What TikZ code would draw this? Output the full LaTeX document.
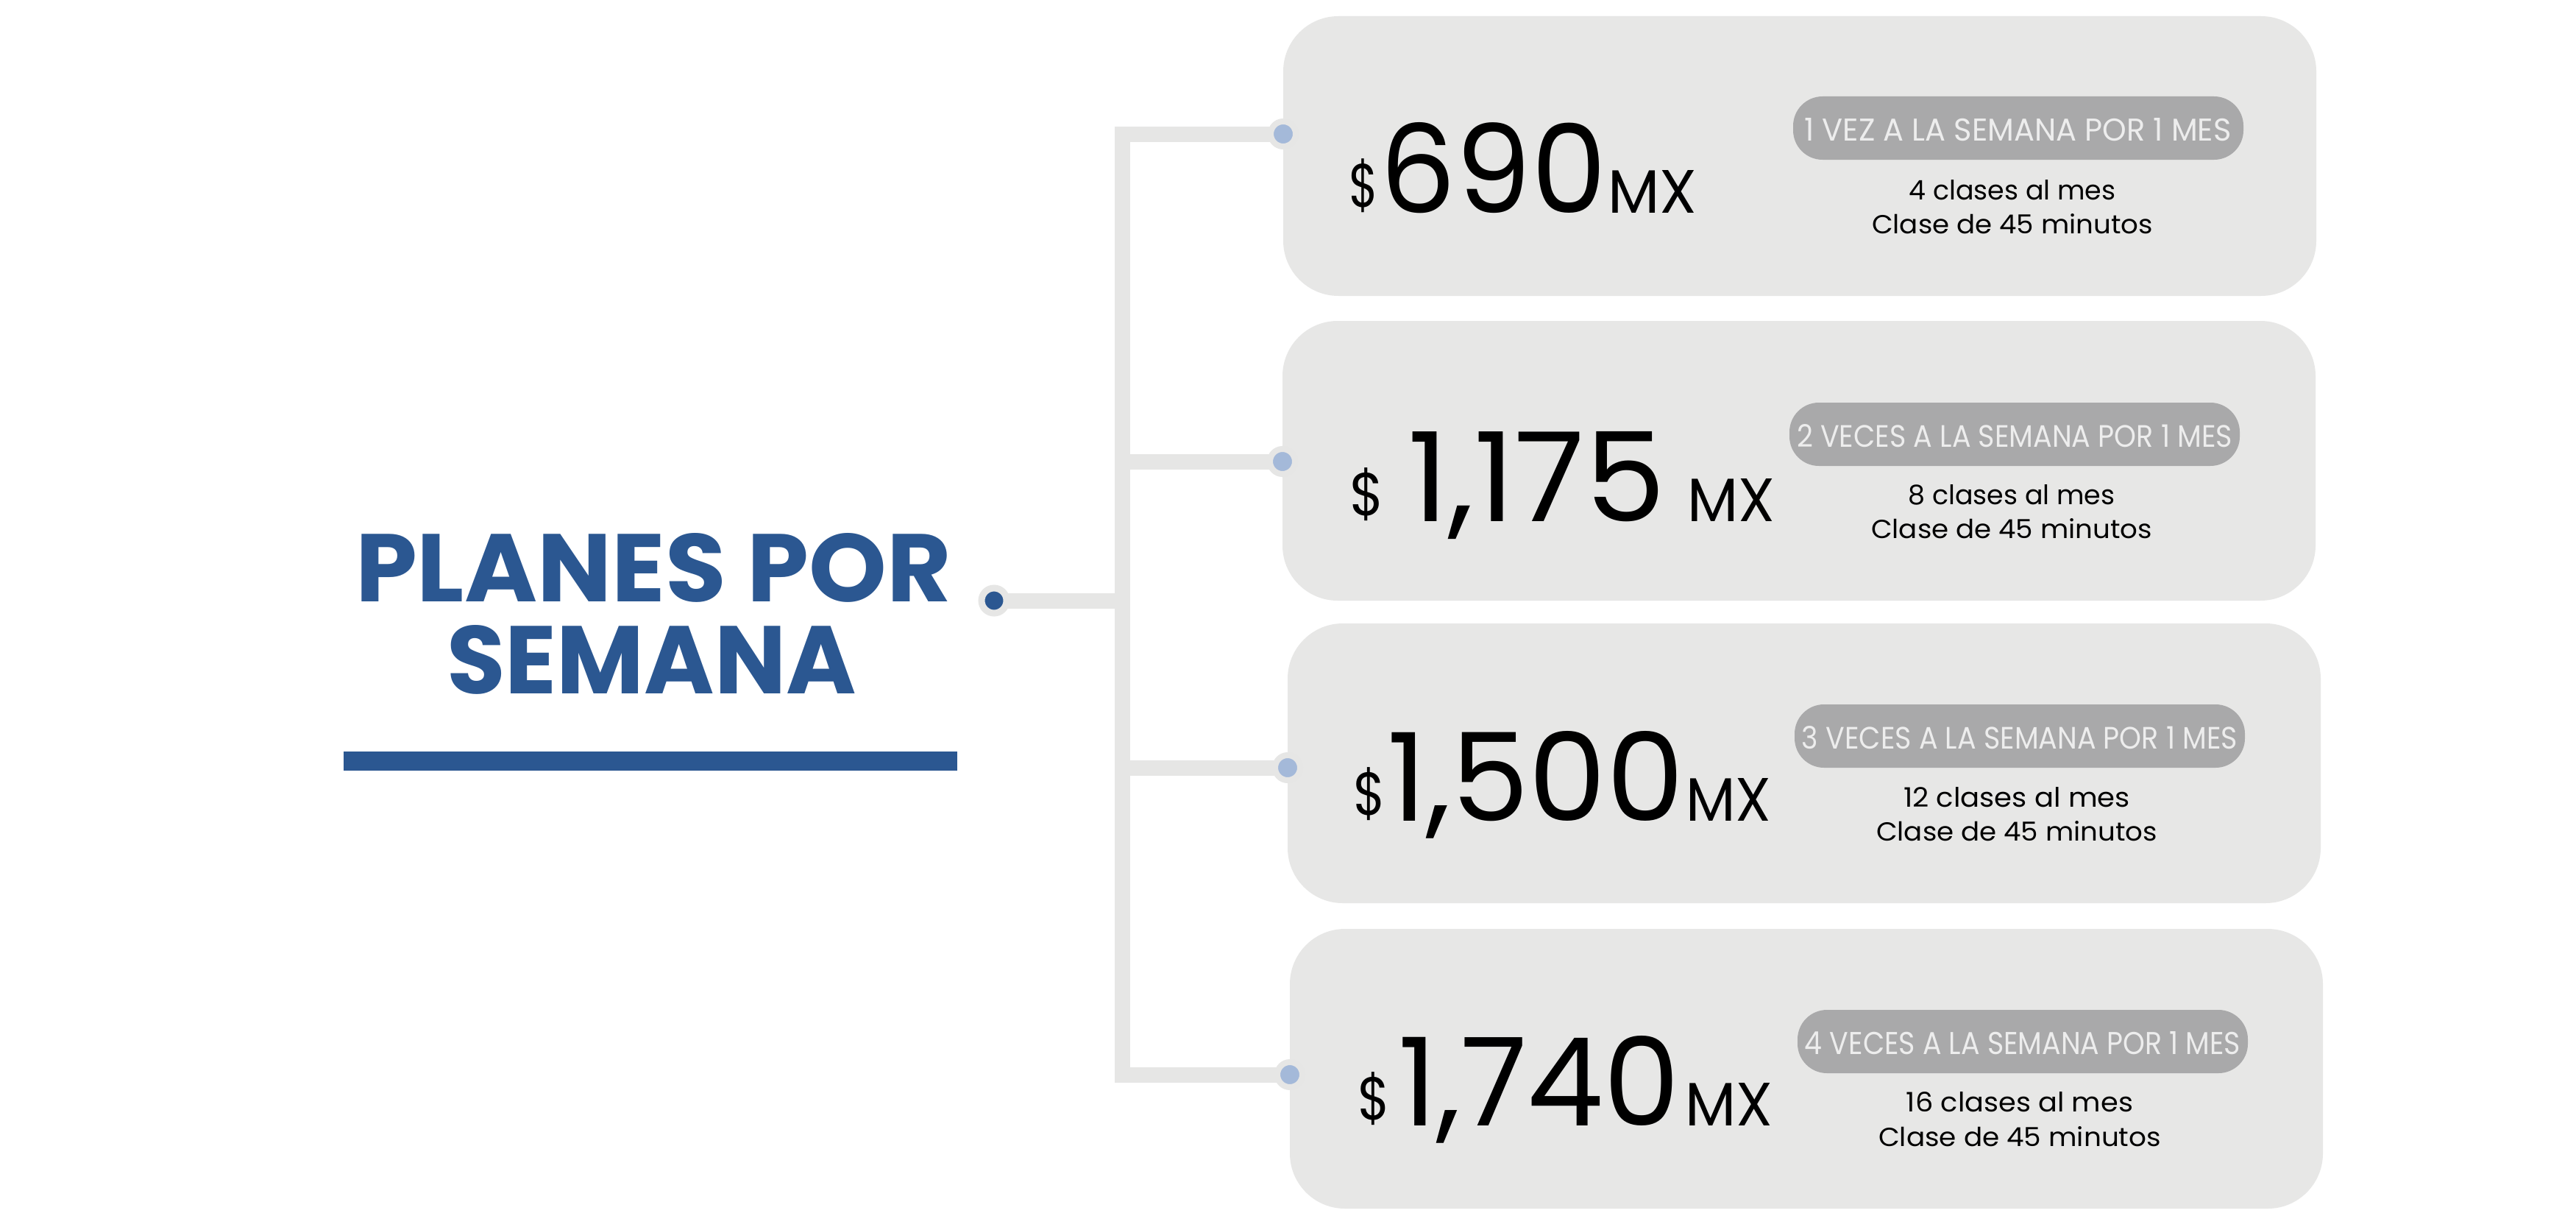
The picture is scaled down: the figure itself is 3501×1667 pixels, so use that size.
\documentclass[tikz,border=0pt]{standalone}
\usepackage{fontspec}
\setmainfont{Poppins}
\usepackage{graphicx}
\definecolor{boxgray}{HTML}{E7E7E6}
\definecolor{linegray}{HTML}{E6E6E5}
\definecolor{pillgray}{HTML}{A9A9AA}
\definecolor{pilltext}{HTML}{EDEDED}
\definecolor{dotblue}{HTML}{A4B9D9}
\definecolor{navy}{HTML}{2B5791}
\pgfdeclarelayer{back}
\pgfdeclarelayer{bg}
\pgfsetlayers{back,bg,main}
\newcommand\fitt[3]{\resizebox{#1pt}{#2pt}{#3}}
\newcommand\fitd[3]{\resizebox*{#1pt}{#2pt}{#3}}
\begin{document}
\begin{tikzpicture}[x=1pt,y=-1pt,
  planbox/.style={fill=boxgray, rounded corners=75pt, inner sep=0pt, outer sep=0pt, anchor=north west, minimum width=1404pt, minimum height=380pt},
  pill/.style={fill=pillgray, rounded corners=40pt, inner sep=0pt, outer sep=0pt, anchor=north west, minimum width=612pt, minimum height=86pt},
  conn/.style={draw=linegray, line width=21pt, line join=miter, line cap=butt},
  rdot/.style={circle, fill=dotblue, draw=linegray, line width=8pt, minimum size=34pt, inner sep=0pt},
  ldot/.style={circle, fill=navy, draw=linegray, line width=9pt, minimum size=34pt, inner sep=0pt},
  txt/.style={inner sep=0pt, outer sep=0pt, text=black},
  pilltxt/.style={inner sep=0pt, outer sep=0pt, text=pilltext, anchor=base},
  subtxt/.style={inner sep=0pt, outer sep=0pt, text=black, anchor=base},
  ttl/.style={inner sep=0pt, outer sep=0pt, text=navy, anchor=base west}
]
\useasboundingbox (0,0) rectangle (3501,1667);
\begin{pgfonlayer}{back}
\fill[white] (0,0) rectangle (3501,1667);
\end{pgfonlayer}

% boxes
\node[planbox] (b1) at (1744,22) {};
\node[planbox] (b2) at (1743,436) {};
\node[planbox] (b3) at (1750,847) {};
\node[planbox] (b4) at (1753,1262) {};

% pills
\node[pill] (p1) at (2437,131) {};
\node[pill] (p2) at (2432,547) {};
\node[pill] (p3) at (2439,957) {};
\node[pill] (p4) at (2443,1372) {};

% dots
\node[ldot] (d0) at (1351,816) {};
\node[rdot] (d1) at (1744,182) {};
\node[rdot] (d2) at (1743,627) {};
\node[rdot] (d3) at (1750,1043) {};
\node[rdot] (d4) at (1753,1460) {};
\coordinate (jt) at (1525.5,182);
\coordinate (jb) at (1525.5,1460);
\coordinate (j0) at (1525.5,816);
\coordinate (j2) at (1525.5,627);
\coordinate (j3) at (1525.5,1043);

\begin{pgfonlayer}{bg}
\draw[conn] (d1.center) -- (jt) -- (jb) -- (d4.center);
\draw[conn] (d0.center) -- (j0);
\draw[conn] (j2) -- (d2.center);
\draw[conn] (j3) -- (d3.center);
\end{pgfonlayer}

% title
\node[ttl] (t1) at (483,817) {\fitt{810}{93}{\bfseries PLANES POR}};
\node[ttl] (t2) at (607,942) {\fitt{557}{93}{\bfseries SEMANA}};
\node[fill=navy, inner sep=0pt, outer sep=0pt, anchor=north west, minimum width=834pt, minimum height=26pt] (bar) at (467,1021) {};

% prices
\node[txt, anchor=south west] (s1) at (1833,289) {\fitd{40}{73}{\$}};
\node[txt, anchor=base west] (n1) at (1875,289) {\fitt{308}{123}{690}};
\node[txt, anchor=base west] (m1) at (2185,289) {\fitt{121}{58}{MX}};

\node[txt, anchor=south west] (s2) at (1834,708) {\fitd{47}{72}{\$}};
\node[txt, anchor=base west] (n2) at (1913,708) {\fitt{350}{122}{1,175}};
\node[txt, anchor=base west] (m2) at (2293,708) {\fitt{119}{58}{MX}};

\node[txt, anchor=south west] (s3) at (1839,1115) {\fitd{44}{72}{\$}};
\node[txt, anchor=base west] (n3) at (1885,1115) {\fitt{404}{122}{1,500}};
\node[txt, anchor=base west] (m3) at (2291,1115) {\fitt{116}{58}{MX}};

\node[txt, anchor=south west] (s4) at (1845,1529) {\fitd{44}{72}{\$}};
\node[txt, anchor=base west] (n4) at (1900,1529) {\fitt{383}{122}{1,740}};
\node[txt, anchor=base west] (m4) at (2290,1529) {\fitt{119}{58}{MX}};

% pill texts
\node[pilltxt] (l1) at (2742.5,191) {\fitt{580}{31}{1 VEZ A LA SEMANA POR 1 MES}};
\node[pilltxt] (l2) at (2738,607) {\fitt{592}{31}{2 VECES A LA SEMANA POR 1 MES}};
\node[pilltxt] (l3) at (2745,1017) {\fitt{592}{31}{3 VECES A LA SEMANA POR 1 MES}};
\node[pilltxt] (l4) at (2749,1432) {\fitt{592}{31}{4 VECES A LA SEMANA POR 1 MES}};

% sub texts
\node[subtxt] (a1) at (2735,271) {\fitt{281}{27}{4 clases al mes}};
\node[subtxt] (c1) at (2735,317) {\fitt{382}{27}{Clase de 45 minutos}};
\node[subtxt] (a2) at (2734,685) {\fitt{281}{27}{8 clases al mes}};
\node[subtxt] (c2) at (2734,731) {\fitt{382}{27}{Clase de 45 minutos}};
\node[subtxt] (a3) at (2741,1096) {\fitt{308}{27}{12 clases al mes}};
\node[subtxt] (c3) at (2741,1142) {\fitt{382}{27}{Clase de 45 minutos}};
\node[subtxt] (a4) at (2745,1510) {\fitt{308}{27}{16 clases al mes}};
\node[subtxt] (c4) at (2745,1557) {\fitt{384}{27}{Clase de 45 minutos}};
\end{tikzpicture}
\end{document}
